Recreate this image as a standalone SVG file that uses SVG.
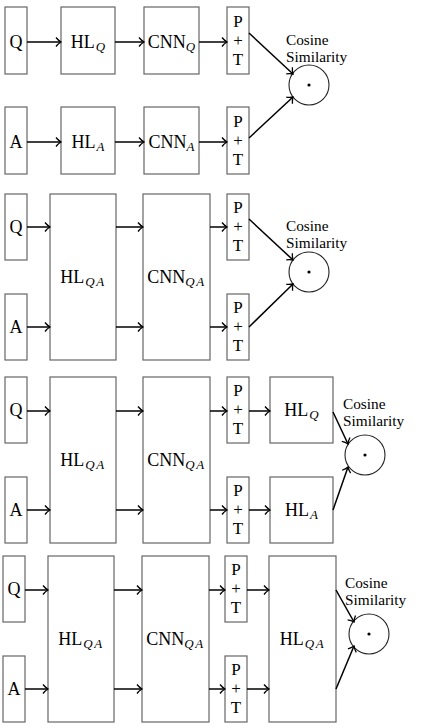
<svg xmlns="http://www.w3.org/2000/svg" width="427" height="728" viewBox="0 0 427 728">
<style>
.box{fill:#fff;stroke:#666;stroke-width:1.2}
.c{fill:#fff;stroke:#222;stroke-width:1.1}
.dot{fill:#000}
text{font-family:"Liberation Serif","Times New Roman",serif;font-size:18px;fill:#000}
.m{text-anchor:middle}
.sub{font-style:italic;font-size:13px}
.qa{letter-spacing:1.5px}
.pt{font-size:17px}
.lbl{font-size:15.3px}
.e{fill:none;stroke:#000;stroke-width:1.5;marker-end:url(#ah)}
</style>
<defs>
<marker id="ah" markerUnits="userSpaceOnUse" markerWidth="12" markerHeight="12" viewBox="-6 -6 12 12" refX="0" refY="0" orient="auto" overflow="visible">
<path d="M-5,-4.5 C-3,-2 -1,-0.6 0,0 C-1,0.6 -3,2 -5,4.5" fill="none" stroke="#000" stroke-width="1.3"/>
</marker>
</defs>

<!-- Panel 1 -->
<g id="p1-q"><rect class="box" x="5" y="7" width="22" height="67"/><text class="m" x="16" y="48">Q</text></g>
<g id="p1-hlq"><rect class="box" x="61" y="7" width="54" height="67"/><text class="m" x="88" y="48">HL<tspan class="sub" dx="1" dy="3">Q</tspan></text></g>
<g id="p1-cnnq"><rect class="box" x="144" y="7" width="55" height="67"/><text class="m" x="171.5" y="48">CNN<tspan class="sub" dy="3">Q</tspan></text></g>
<g id="p1-pt1"><rect class="box" x="227" y="7" width="22" height="67"/><text class="m pt" x="238" y="27">P<tspan x="238" y="46">+</tspan><tspan x="238" y="65">T</tspan></text></g>
<g id="p1-a"><rect class="box" x="5" y="107" width="22" height="67"/><text class="m" x="16" y="148">A</text></g>
<g id="p1-hla"><rect class="box" x="61" y="107" width="54" height="67"/><text class="m" x="88" y="148">HL<tspan class="sub" dx="1" dy="3">A</tspan></text></g>
<g id="p1-cnna"><rect class="box" x="144" y="107" width="55" height="67"/><text class="m" x="171.5" y="148">CNN<tspan class="sub" dy="3">A</tspan></text></g>
<g id="p1-pt2"><rect class="box" x="227" y="107" width="22" height="67"/><text class="m pt" x="238" y="127">P<tspan x="238" y="146">+</tspan><tspan x="238" y="165">T</tspan></text></g>
<g id="p1-cos"><circle class="c" cx="309" cy="85" r="20"/><circle class="dot" cx="309" cy="85" r="1.6"/><text class="lbl" x="286" y="45">Cosine<tspan x="286" y="62">Similarity</tspan></text></g>

<!-- Panel 2 -->
<g id="p2-q"><rect class="box" x="5" y="194" width="22" height="66"/><text class="m" x="16" y="233">Q</text></g>
<g id="p2-a"><rect class="box" x="5" y="294" width="22" height="66"/><text class="m" x="16" y="333">A</text></g>
<g id="p2-hlqa"><rect class="box" x="50" y="194" width="66" height="166"/><text class="m" x="83" y="283">HL<tspan class="sub qa" dx="1" dy="3">QA</tspan></text></g>
<g id="p2-cnnqa"><rect class="box" x="143" y="194" width="67" height="166"/><text class="m" x="176.5" y="283">CNN<tspan class="sub qa" dy="3">QA</tspan></text></g>
<g id="p2-pt1"><rect class="box" x="227" y="194" width="22" height="66"/><text class="m pt" x="238" y="213">P<tspan x="238" y="232">+</tspan><tspan x="238" y="251">T</tspan></text></g>
<g id="p2-pt2"><rect class="box" x="227" y="294" width="22" height="66"/><text class="m pt" x="238" y="313">P<tspan x="238" y="332">+</tspan><tspan x="238" y="351">T</tspan></text></g>
<g id="p2-cos"><circle class="c" cx="309" cy="272" r="20"/><circle class="dot" cx="309" cy="272" r="1.6"/><text class="lbl" x="286" y="231">Cosine<tspan x="286" y="248">Similarity</tspan></text></g>

<!-- Panel 3 -->
<g id="p3-q"><rect class="box" x="5" y="377" width="22" height="66"/><text class="m" x="16" y="416">Q</text></g>
<g id="p3-a"><rect class="box" x="5" y="477" width="22" height="66"/><text class="m" x="16" y="516">A</text></g>
<g id="p3-hlqa"><rect class="box" x="50" y="377" width="66" height="166"/><text class="m" x="83" y="466">HL<tspan class="sub qa" dx="1" dy="3">QA</tspan></text></g>
<g id="p3-cnnqa"><rect class="box" x="143" y="377" width="67" height="166"/><text class="m" x="176.5" y="466">CNN<tspan class="sub qa" dy="3">QA</tspan></text></g>
<g id="p3-pt1"><rect class="box" x="227" y="377" width="22" height="66"/><text class="m pt" x="238" y="396">P<tspan x="238" y="415">+</tspan><tspan x="238" y="434">T</tspan></text></g>
<g id="p3-pt2"><rect class="box" x="227" y="477" width="22" height="66"/><text class="m pt" x="238" y="496">P<tspan x="238" y="515">+</tspan><tspan x="238" y="534">T</tspan></text></g>
<g id="p3-hlq"><rect class="box" x="270" y="377" width="63" height="66"/><text class="m" x="301.5" y="416">HL<tspan class="sub" dx="1" dy="3">Q</tspan></text></g>
<g id="p3-hla"><rect class="box" x="270" y="477" width="63" height="66"/><text class="m" x="301.5" y="516">HL<tspan class="sub" dx="1" dy="3">A</tspan></text></g>
<g id="p3-cos"><circle class="c" cx="365" cy="455" r="20"/><circle class="dot" cx="365" cy="455" r="1.6"/><text class="lbl" x="343" y="409">Cosine<tspan x="343" y="426">Similarity</tspan></text></g>

<!-- Panel 4 -->
<g id="p4-q"><rect class="box" x="3" y="556" width="22" height="66"/><text class="m" x="14" y="595">Q</text></g>
<g id="p4-a"><rect class="box" x="3" y="656" width="22" height="66"/><text class="m" x="14" y="695">A</text></g>
<g id="p4-hlqa"><rect class="box" x="48" y="556" width="66" height="166"/><text class="m" x="81" y="645">HL<tspan class="sub qa" dx="1" dy="3">QA</tspan></text></g>
<g id="p4-cnnqa"><rect class="box" x="142" y="556" width="67" height="166"/><text class="m" x="175.5" y="645">CNN<tspan class="sub qa" dy="3">QA</tspan></text></g>
<g id="p4-pt1"><rect class="box" x="225" y="556" width="22" height="66"/><text class="m pt" x="236" y="575">P<tspan x="236" y="594">+</tspan><tspan x="236" y="613">T</tspan></text></g>
<g id="p4-pt2"><rect class="box" x="225" y="656" width="22" height="66"/><text class="m pt" x="236" y="675">P<tspan x="236" y="694">+</tspan><tspan x="236" y="713">T</tspan></text></g>
<g id="p4-hlqa2"><rect class="box" x="269" y="556" width="67" height="166"/><text class="m" x="302.5" y="645">HL<tspan class="sub qa" dx="1" dy="3">QA</tspan></text></g>
<g id="p4-cos"><circle class="c" cx="369" cy="634" r="20"/><circle class="dot" cx="369" cy="634" r="1.6"/><text class="lbl" x="345" y="588">Cosine<tspan x="345" y="605">Similarity</tspan></text></g>

<g id="connectors">
<!-- panel 1 -->
<path class="e" d="M27,42 H61"/><path class="e" d="M115,42 H144"/><path class="e" d="M199,42 H227"/>
<path class="e" d="M27,142 H61"/><path class="e" d="M115,142 H144"/><path class="e" d="M199,142 H227"/>
<path class="e" d="M249,33 L293,74"/><path class="e" d="M249,138 L293,97"/>
<!-- panel 2 -->
<path class="e" d="M27,227 H50"/><path class="e" d="M116,227 H143"/><path class="e" d="M210,227 H227"/>
<path class="e" d="M27,327 H50"/><path class="e" d="M116,327 H143"/><path class="e" d="M210,327 H227"/>
<path class="e" d="M249,219 L293,260"/><path class="e" d="M249,327 L293,284"/>
<!-- panel 3 -->
<path class="e" d="M27,411 H50"/><path class="e" d="M116,411 H143"/><path class="e" d="M210,411 H227"/><path class="e" d="M249,411 H270"/>
<path class="e" d="M27,510 H50"/><path class="e" d="M116,510 H143"/><path class="e" d="M210,510 H227"/><path class="e" d="M249,510 H270"/>
<path class="e" d="M333,412 L348,444"/><path class="e" d="M333,510 L348,467"/>
<!-- panel 4 -->
<path class="e" d="M25,590 H48"/><path class="e" d="M114,590 H142"/><path class="e" d="M209,590 H225"/><path class="e" d="M247,590 H269"/>
<path class="e" d="M25,689 H48"/><path class="e" d="M114,689 H142"/><path class="e" d="M209,689 H225"/><path class="e" d="M247,689 H269"/>
<path class="e" d="M336,590 L354,622"/><path class="e" d="M336,689 L354,646"/>
</g>
</svg>
